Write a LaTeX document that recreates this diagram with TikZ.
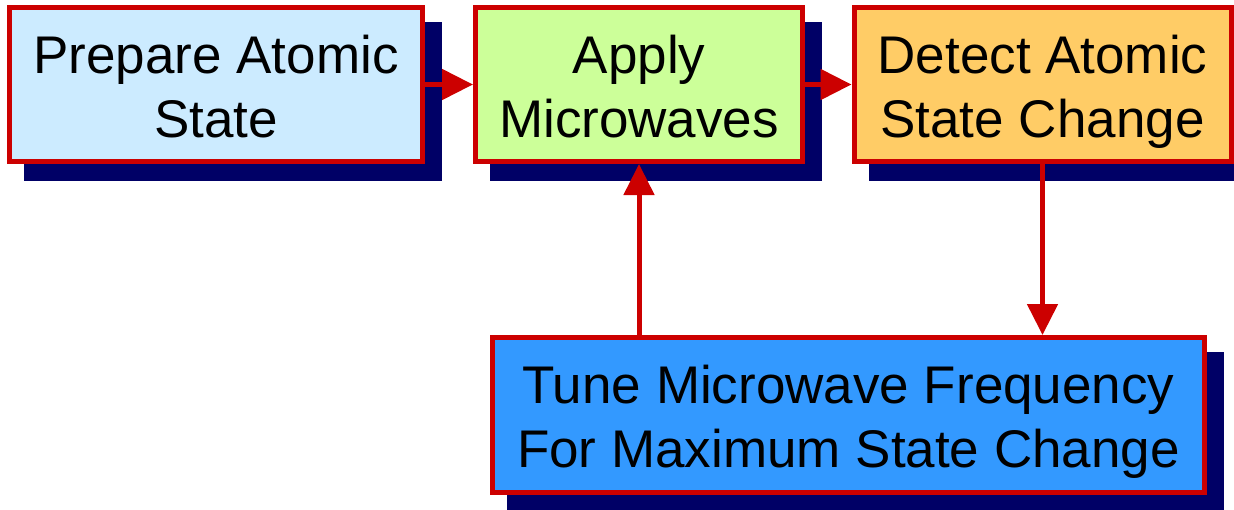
\documentclass[tikz,border=0pt]{standalone}
\usepackage{fontspec}
\setmainfont{Liberation Sans}
\usetikzlibrary{arrows.meta}
\definecolor{redc}{HTML}{CC0000}
\definecolor{shadowc}{HTML}{000066}
\definecolor{fillA}{HTML}{CCEBFF}
\definecolor{fillB}{HTML}{CCFF99}
\definecolor{fillC}{HTML}{FFCC66}
\definecolor{fillD}{HTML}{3399FF}
\pgfdeclarelayer{bg}
\pgfsetlayers{bg,main}
\tikzset{
  stepbox/.style={draw=redc, line width=5pt, inner sep=0pt, rectangle},
  lbl/.style={font=\fontsize{53}{64}\selectfont, inner sep=0pt, anchor=base},
  conn/.style={draw=redc, line width=5pt, -{Triangle[length=31pt,width=30pt]}},
  shadowfill/.style={fill=shadowc}
}
\newcommand{\twolines}[2]{\begin{tabular}[t]{@{}c@{}}#1\\#2\end{tabular}}
\begin{document}
\begin{tikzpicture}[x=1pt,y=-1pt]
\useasboundingbox (0,0) rectangle (1234,509);
\node[stepbox, fill=fillA, minimum width=413pt, minimum height=154pt] (b1) at (216,84.5) {};
\node[stepbox, fill=fillB, minimum width=327pt, minimum height=154pt] (b2) at (639,84.5) {};
\node[stepbox, fill=fillC, minimum width=377pt, minimum height=154pt] (b3) at (1042.5,84.5) {};
\node[stepbox, fill=fillD, minimum width=712pt, minimum height=155pt] (b4) at (848.5,415) {};
\begin{pgfonlayer}{bg}
\foreach \n in {b1,b2,b3,b4}
  \fill[shadowfill] ([shift={(17,17)}]\n.north west) rectangle ([shift={(17,17)}]\n.south east);
\end{pgfonlayer}
\node[lbl] (t1) at (216,73) {\twolines{Prepare Atomic}{State}};
\node[lbl] (t2) at (639,73) {\twolines{Apply}{Microwaves}};
\node[lbl] (t3) at (1042.5,73) {\twolines{Detect Atomic}{State Change}};
\node[lbl] (t4) at (848.5,403) {\twolines{Tune Microwave Frequency}{For Maximum State Change}};
\draw[conn] (b1.east) -- (b2.west);
\draw[conn] (b2.east) -- (b3.west);
\draw[conn] (b3.south) -- (b3.south |- b4.north);
\draw[conn] (b4.north -| b2.south) -- (b2.south);
\end{tikzpicture}
\end{document}
